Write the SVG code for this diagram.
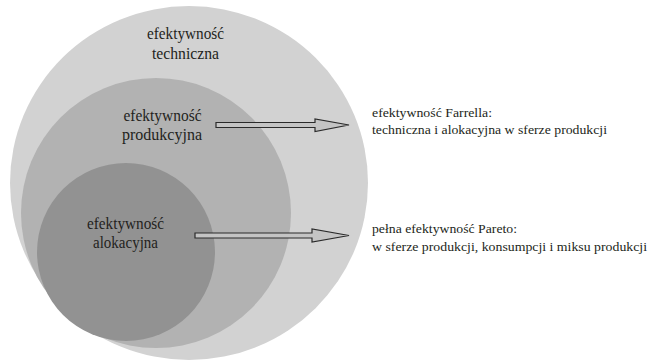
<svg xmlns="http://www.w3.org/2000/svg" width="656" height="360" viewBox="0 0 656 360">
<style>
text{fill:#231f20;font-family:'Liberation Serif',Tinos,'Times New Roman','DejaVu Serif',serif}
.c{font-size:16.5px;text-anchor:middle}
.r{font-size:13.5px}
.arr{fill:#c4c4c4;stroke:#2a2a2a;stroke-width:1.2}
</style>
<rect width="656" height="360" fill="#fff"/>
<g id="techniczna">
<ellipse cx="189" cy="183" rx="179" ry="177" fill="#d2d2d2"/>
<text class="c" x="185.5" y="39" textLength="77" lengthAdjust="spacingAndGlyphs">efektywność</text>
<text class="c" x="185.5" y="59" textLength="67" lengthAdjust="spacingAndGlyphs">techniczna</text>
</g>
<g id="produkcyjna">
<circle cx="156" cy="213" r="135" fill="#b2b2b2"/>
<text class="c" x="162.5" y="121" textLength="78" lengthAdjust="spacingAndGlyphs">efektywność</text>
<text class="c" x="162" y="140" textLength="80" lengthAdjust="spacingAndGlyphs">produkcyjna</text>
</g>
<g id="alokacyjna">
<circle cx="126" cy="252" r="89" fill="#929292"/>
<text class="c" x="125.5" y="229" textLength="77" lengthAdjust="spacingAndGlyphs">efektywność</text>
<text class="c" x="125.5" y="248" textLength="65" lengthAdjust="spacingAndGlyphs">alokacyjna</text>
</g>
<g id="connectors">
<path class="arr" d="M216,122.5 H315 V119 L349,125 L315,131.5 V127.5 H216 Z"/>
<path class="arr" d="M195,233 H312 V229 L349,235.5 L312,242 V238 H195 Z"/>
</g>
<g id="farrell">
<text class="r" x="372" y="117" textLength="120" lengthAdjust="spacingAndGlyphs">efektywność Farrella:</text>
<text class="r" x="372" y="134" textLength="235" lengthAdjust="spacingAndGlyphs">techniczna i alokacyjna w sferze produkcji</text>
</g>
<g id="pareto">
<text class="r" x="372" y="233" textLength="145" lengthAdjust="spacingAndGlyphs">pełna efektywność Pareto:</text>
<text class="r" x="372" y="251" textLength="275" lengthAdjust="spacingAndGlyphs">w sferze produkcji, konsumpcji i miksu produkcji</text>
</g>
</svg>
